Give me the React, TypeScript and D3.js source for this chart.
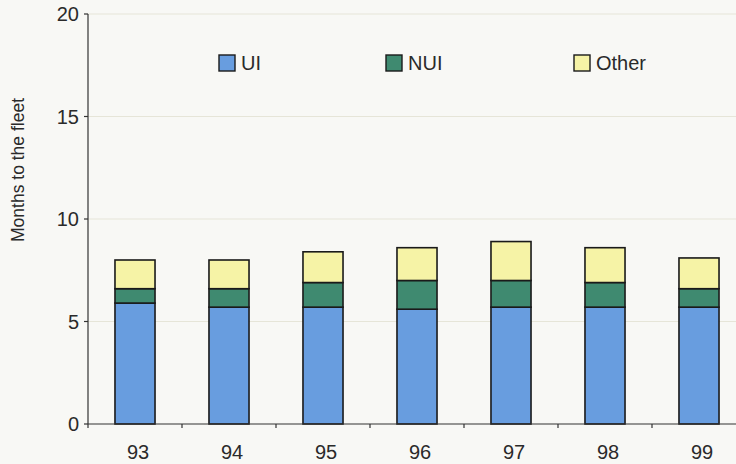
import React from "react";
import * as d3 from "d3";

const categories = ["93", "94", "95", "96", "97", "98", "99"];
const uiValues = [5.9, 5.7, 5.7, 5.6, 5.7, 5.7, 5.7];
const nuiValues = [0.7, 0.9, 1.2, 1.4, 1.3, 1.2, 0.9];
const otherValues = [1.4, 1.4, 1.5, 1.6, 1.9, 1.7, 1.5];
const seriesNames = ["UI", "NUI", "Other"];
const yTicks = [0, 5, 10, 15, 20];

const W = 736;
const H = 464;
const colors: Record<string, string> = { UI: "#689ddf", NUI: "#3f8a70", Other: "#f6f3a6" };
const font = "'Liberation Sans', Arial, Helvetica, sans-serif";

export default function App() {
  const x = d3
    .scaleBand<string>()
    .domain(categories)
    .range([88, 88 + 94 * categories.length])
    .paddingInner(0.574)
    .paddingOuter(0.287);
  const y = d3.scaleLinear().domain([0, 20]).range([424, 14]);

  const rows = categories.map((c, i) => ({
    cat: c,
    UI: uiValues[i],
    NUI: nuiValues[i],
    Other: otherValues[i],
  }));
  const stacked = d3.stack<any>().keys(seriesNames)(rows);

  const step = x.step();
  const boundaries = categories.map((_, i) => 88 + step * i).concat([88 + step * categories.length]);

  const legendItems = [
    { name: "UI", bx: 219 },
    { name: "NUI", bx: 386 },
    { name: "Other", bx: 574 },
  ];

  return (
    <svg
      width={W}
      height={H}
      style={{ position: "absolute", left: 0, top: 0, background: "#f8f8f5" }}
      fontFamily={font}
    >
      <rect x={0} y={0} width={W} height={H} fill="#f8f8f5" />
      {/* gridlines */}
      {yTicks.filter((t) => t > 0).map((t) => (
        <line key={"g" + t} x1={88} x2={W} y1={y(t)} y2={y(t)} stroke="#e6e5d8" strokeWidth={1} />
      ))}
      {/* bars */}
      {stacked.map((s) => (
        <g key={s.key}>
          {s.map((d, i) => (
            <rect
              key={i}
              x={x(categories[i])}
              y={y(d[1])}
              width={x.bandwidth()}
              height={y(d[0]) - y(d[1])}
              fill={colors[s.key]}
              stroke="#1a1a1a"
              strokeWidth={1.6}
            />
          ))}
        </g>
      ))}
      {/* axes */}
      <line x1={88} x2={88} y1={y(20)} y2={y(0)} stroke="#333" strokeWidth={1.2} />
      <line x1={88} x2={W} y1={y(0)} y2={y(0)} stroke="#333" strokeWidth={1.2} />
      {yTicks.map((t) => (
        <g key={"yt" + t}>
          <line x1={84} x2={88} y1={y(t)} y2={y(t)} stroke="#333" strokeWidth={1.2} />
          <text x={79} y={y(t)} dy="0.36em" textAnchor="end" fontSize={20} fill="#2a2a2a">
            {t}
          </text>
        </g>
      ))}
      {boundaries.map((b, i) => (
        <line key={"xt" + i} x1={b} x2={b} y1={y(0)} y2={y(0) + 4} stroke="#333" strokeWidth={1.2} />
      ))}
      {categories.map((c) => (
        <text
          key={"xl" + c}
          x={(x(c) as number) + x.bandwidth() / 2 + 3}
          y={459}
          textAnchor="middle"
          fontSize={20}
          fill="#2a2a2a"
        >
          {c}
        </text>
      ))}
      <text
        transform={`translate(24, 170) rotate(-90)`}
        textAnchor="middle"
        fontSize={17.5}
        fill="#2a2a2a"
      >
        Months to the fleet
      </text>
      {/* legend */}
      {legendItems.map((l) => (
        <g key={l.name}>
          <rect x={l.bx} y={55} width={16} height={16} fill={colors[l.name]} stroke="#1a1a1a" strokeWidth={1.4} />
          <text x={l.bx + 22} y={63} dy="0.36em" fontSize={20} fill="#2a2a2a">
            {l.name}
          </text>
        </g>
      ))}
    </svg>
  );
}
